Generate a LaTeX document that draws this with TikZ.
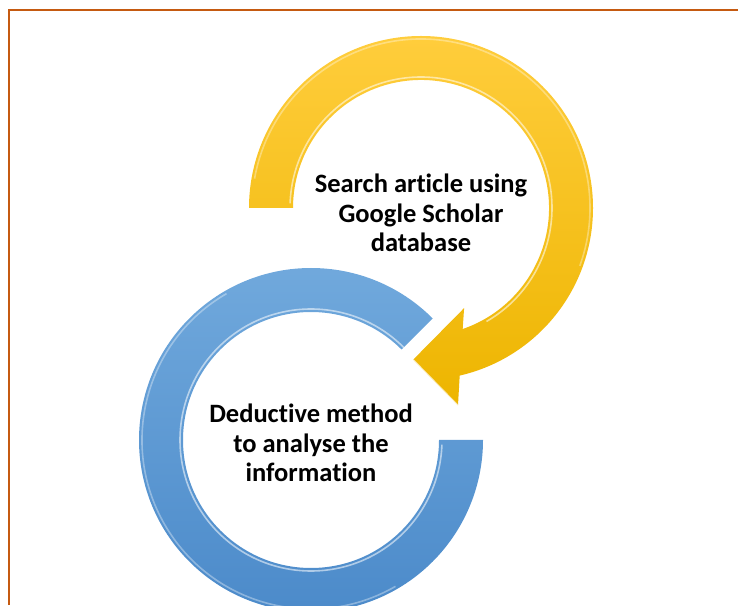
\documentclass[tikz,border=0pt]{standalone}
\usepackage{fontspec}
\setsansfont{Carlito}[Ligatures=NoCommon]
\usepackage{tikz}
\usetikzlibrary{arrows.meta, positioning}
\usepackage{xcolor}
\definecolor{frameorange}{HTML}{C55A11}
\definecolor{goldtop}{HTML}{FFCD3C}
\definecolor{goldbot}{HTML}{EDB500}
\definecolor{bluetop}{HTML}{72AADD}
\definecolor{bluebot}{HTML}{4A89C9}

\begin{document}
\begin{tikzpicture}[
    x=1pt, y=1pt,
    goldring/.style={top color=goldtop, bottom color=goldbot},
    bluering/.style={top color=bluetop, bottom color=bluebot},
    shine/.style={line width=1.6pt, white, opacity=0.55},
    label/.style={align=center, font=\sffamily\bfseries\fontsize{26.5}{29.5}\selectfont, text=black}
]
\useasboundingbox (0,0) rectangle (738,605);
\clip (0,0) rectangle (738,605);

% Marco
\draw[frameorange, line width=2pt] (9,0) -- (9,594.5) -- (738,594.5);

% Flecha amarilla
\begin{scope}[shift={(421,397)}]
\shade[goldring] (180:172) arc[start angle=180, end angle=-77, radius=172]
    -- (-79.4:201) -- (-93:152) -- (-66.7:109) -- (-71:128)
    arc[start angle=-71, end angle=180, radius=128] -- cycle;
\draw[shine] (178:131) arc[start angle=178, end angle=-60, radius=131];
\draw[shine, opacity=0.35] (170:169) arc[start angle=170, end angle=-20, radius=169];
\draw[shine, opacity=0.7] (-93:152) -- (-79.4:201);
\coordinate (searchc) at (0,-5);
\end{scope}

% Anillo azul
\begin{scope}[shift={(311,165)}]
\shade[bluering] (45:172) arc[start angle=45, end angle=360, radius=172]
    -- (0:128) arc[start angle=360, end angle=45, radius=128] -- cycle;
\draw[shine] (43:131) arc[start angle=43, end angle=358, radius=131];
\draw[shine, opacity=0.35] (120:169) arc[start angle=120, end angle=300, radius=169];
\coordinate (deducec) at (0,-3);
\end{scope}

% Textos
\node[label] (search) at (searchc) {Search article using\\Google Scholar\\database};
\node[label] (deduce) at (deducec) {Deductive method\\to analyse the\\information};

\end{tikzpicture}
\end{document}
